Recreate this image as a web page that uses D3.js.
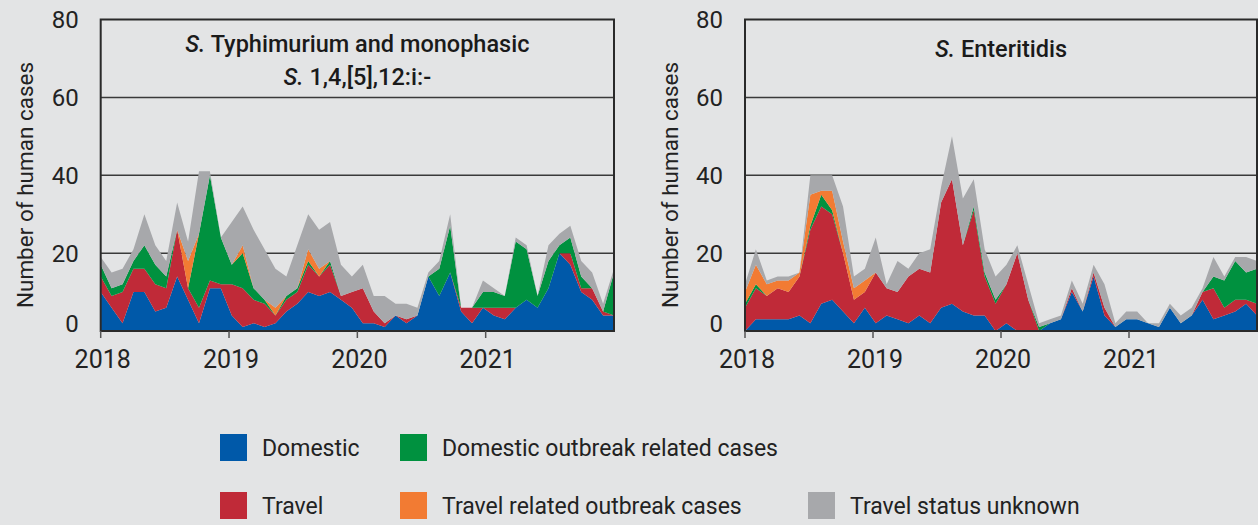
<!DOCTYPE html>
<html>
<head>
<meta charset="utf-8">
<script src="https://cdn.jsdelivr.net/npm/d3@7"></script>
<style>
  body { margin: 0; background: #e3e4e5; }
  svg { display: block; font-family: Roboto, "DejaVu Sans", sans-serif; }
</style>
</head>
<body>
<svg id="chart" width="1258" height="525"></svg>
<script>
// monthly categories Jan 2018 - Dec 2021
var months = d3.timeMonths(new Date(2018, 0, 1), new Date(2022, 0, 1)).map(d3.timeFormat("%Y-%m"));
var yearTicks = [2018, 2019, 2020, 2021];
var yTicks = [0, 20, 40, 60, 80];

// S. Typhimurium and monophasic S. 1,4,[5],12:i:-
var typhDomestic     = [10,6,2,10,10,5,6,14,8,2,11,11,4,1,2,1,2,5,7,10,9,10,8,6,2,2,1,4,2,4,14,9,15,5,2,6,4,3,6,8,6,11,20,17,10,8,4,4];
var typhTravel       = [4,3,8,6,6,7,5,12,3,4,2,1,8,10,6,6,2,3,3,7,5,7,1,4,9,3,1,0,1,0,0,0,0,1,4,0,2,3,0,0,0,0,0,3,1,3,1,0];
var typhDomOutbreak  = [3,2,2,2,6,5,3,0,0,19,27,12,5,9,3,1,0,1,1,1,0,1,0,0,0,0,0,0,0,0,0,7,12,0,0,4,4,3,17,13,3,7,2,4,3,0,0,11];
var typhTravOutbreak = [0,0,0,0,0,0,0,0,7,0,0,0,0,2,0,0,2,0,0,3,2,0,0,0,0,0,0,0,0,0,0,0,0,0,0,0,0,0,0,0,0,0,0,0,0,0,0,0];
var typhUnknown      = [2,4,4,3,8,5,4,7,5,16,1,0,11,10,15,13,10,5,11,9,10,10,8,4,6,4,7,3,4,2,1,2,3,0,0,3,1,0,1,1,0,4,3,3,4,4,2,1];

// S. Enteritidis
var entDomestic      = [0,3,3,3,3,4,2,7,8,5,2,6,2,4,3,2,4,2,6,7,5,4,4,0,2,0,0,0,2,3,10,5,14,4,1,3,3,2,1,6,2,4,8,3,4,5,7,4];
var entTravel        = [6,8,6,8,7,10,24,25,22,15,6,4,13,7,7,12,12,13,27,32,17,27,10,7,10,20,8,0,0,0,1,0,1,2,0,0,0,0,0,0,0,0,2,8,2,3,1,3];
var entDomOutbreak   = [1,1,0,0,0,0,1,3,1,0,0,0,0,0,0,0,0,0,0,0,0,1,1,1,0,0,0,1,0,0,0,0,0,0,0,0,0,0,0,0,0,0,0,3,7,10,7,9];
var entTravOutbreak  = [3,5,3,2,3,1,8,1,5,3,3,3,0,0,0,0,0,0,0,0,0,0,0,0,0,0,0,0,0,0,0,0,0,0,0,0,0,0,0,0,0,0,0,0,0,0,0,0];
var entUnknown       = [2,4,1,1,1,0,5,4,4,9,3,3,9,1,8,2,4,6,4,11,12,7,6,6,5,2,4,1,1,1,2,2,2,6,1,2,2,0,1,1,2,2,1,5,1,1,4,2];

var keys = ["domestic", "travel", "domOutbreak", "travOutbreak", "unknown"];
var colour = d3.scaleOrdinal()
    .domain(keys)
    .range(["#0059a9", "#c02a38", "#00913f", "#f27b33", "#a7a8ab"]);

var legendItems = [
    {k: "domestic",     label: "Domestic",                        col: 0, row: 0},
    {k: "domOutbreak",  label: "Domestic outbreak related cases", col: 1, row: 0},
    {k: "travel",       label: "Travel",                          col: 0, row: 1},
    {k: "travOutbreak", label: "Travel related outbreak cases",   col: 1, row: 1},
    {k: "unknown",      label: "Travel status unknown",           col: 2, row: 1}
];

var panels = [
    {x0: 100.7, x1: 614, labelX: 25,
     title: [[["S.", true], [" Typhimurium and monophasic", false]], [["S.", true], [" 1,4,[5],12:i:-", false]]],
     series: [typhDomestic, typhTravel, typhDomOutbreak, typhTravOutbreak, typhUnknown]},
    {x0: 745, x1: 1257, labelX: 670,
     title: [[["S.", true], [" Enteritidis", false]]],
     series: [entDomestic, entTravel, entDomOutbreak, entTravOutbreak, entUnknown]}
];

var plotTop = 19.5, plotBottom = 331;
var svg = d3.select("#chart");
var y = d3.scaleLinear().domain([0, 80]).range([plotBottom, plotTop]);

panels.forEach(function (p) {
    var g = svg.append("g");

    var rows = months.map(function (m, i) {
        var r = {month: m};
        keys.forEach(function (k, j) { r[k] = p.series[j][i]; });
        return r;
    });

    var x = d3.scalePoint().domain(months).range([p.x0, p.x1]);
    var xYear = d3.scaleLinear().domain([2018, 2022]).range([p.x0, p.x1]);

    // gridlines
    g.selectAll(".grid")
        .data(yTicks.filter(d => d > 0 && d < 80))
        .enter().append("line")
        .attr("x1", p.x0).attr("x2", p.x1)
        .attr("y1", d => y(d)).attr("y2", d => y(d))
        .attr("stroke", "#3a3a3a").attr("stroke-width", 1.5);

    var stacked = d3.stack().keys(keys)(rows);
    var area = d3.area()
        .x(d => x(d.data.month))
        .y0(d => y(d[0]))
        .y1(d => y(d[1]));

    g.selectAll(".layer")
        .data(stacked)
        .enter().append("path")
        .attr("d", area)
        .attr("fill", d => colour(d.key));

    // frame
    g.append("rect")
        .attr("x", p.x0).attr("y", plotTop)
        .attr("width", p.x1 - p.x0).attr("height", plotBottom - plotTop)
        .attr("fill", "none")
        .attr("stroke", "#2a2a2a").attr("stroke-width", 2);

    // year ticks
    g.selectAll(".xtick")
        .data(yearTicks)
        .enter().append("line")
        .attr("x1", d => xYear(d)).attr("x2", d => xYear(d))
        .attr("y1", plotBottom).attr("y2", plotBottom + 7)
        .attr("stroke", "#555").attr("stroke-width", 1.5);

    g.selectAll(".xlab")
        .data(yearTicks)
        .enter().append("text")
        .attr("x", d => xYear(d) + 2)
        .attr("y", 368)
        .attr("text-anchor", "middle")
        .attr("font-size", 25)
        .attr("fill", "#222")
        .text(d => d);

    g.selectAll(".ylab")
        .data(yTicks)
        .enter().append("text")
        .attr("x", p.x0 - 22)
        .attr("y", d => y(d) - (d === 0 ? 8 : 0))
        .attr("dy", "0.36em")
        .attr("text-anchor", "end")
        .attr("font-size", 24)
        .attr("fill", "#222")
        .text(d => d);

    g.append("text")
        .attr("transform", "translate(" + (p.labelX + 8) + "," + 185 + ") rotate(-90)")
        .attr("text-anchor", "middle")
        .attr("font-size", 22.5)
        .attr("fill", "#222")
        .text("Number of human cases");

    // title
    var cx = (p.x0 + p.x1) / 2;
    p.title.forEach(function (line, li) {
        var t = g.append("text")
            .attr("x", cx)
            .attr("y", (p.title.length > 1 ? 52 : 57) + li * 33)
            .attr("text-anchor", "middle")
            .attr("font-size", 23.5)
            .attr("font-weight", 500)
            .attr("fill", "#1a1a1a");
        line.forEach(function (part) {
            t.append("tspan")
                .attr("font-style", part[1] ? "italic" : "normal")
                .text(part[0]);
        });
    });
});

// legend
var colX = [220, 400, 808];
var rowY = [434, 492];
var legend = svg.append("g")
    .selectAll("g")
    .data(legendItems)
    .enter().append("g")
    .attr("transform", d => "translate(" + colX[d.col] + "," + rowY[d.row] + ")");

legend.append("rect")
    .attr("width", 27).attr("height", 27)
    .attr("fill", d => colour(d.k));

legend.append("text")
    .attr("x", 42)
    .attr("y", 14)
    .attr("dy", "0.35em")
    .attr("font-size", 23)
    .attr("fill", "#222")
    .text(d => d.label);
</script>
</body>
</html>
